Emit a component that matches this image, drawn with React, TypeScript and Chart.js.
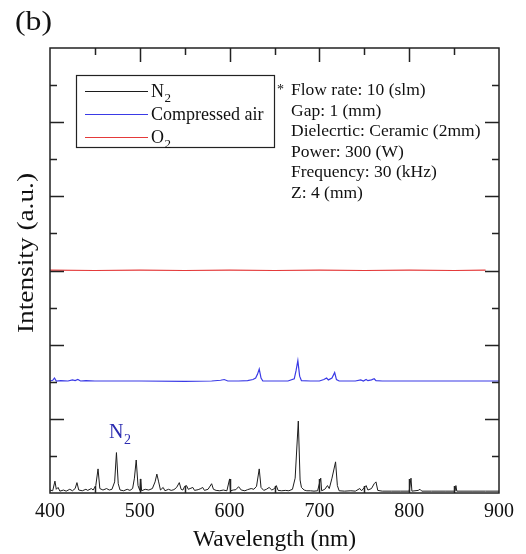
import React, { useEffect, useRef } from "react";
import { Chart, registerables } from "chart.js";

Chart.register(...registerables);

const xMin = 400;
const xMax = 900;
const yMin = 0;
const yMax = 12;
const xTickStep = 100;
const xMinorStep = 50;
const yTickStep = 1;
const xTickLabels = [400, 500, 600, 700, 800, 900];

const panelLabel = "(b)";
const xTitle = "Wavelength (nm)";
const yTitle = "Intensity (a.u.)";
const legendMain = ["N", "Compressed air", "O"];
const legendSub = ["2", "", "2"];
const seriesColors = ["#1c1c1c", "#3a3ae6", "#e43a3a"];
const conditionLines = [
  "Flow rate: 10 (slm)",
  "Gap: 1 (mm)",
  "Dielecrtic: Ceramic (2mm)",
  "Power: 300 (W)",
  "Frequency: 30 (kHz)",
  "Z: 4 (mm)",
];
const peakLabelMain = "N";
const peakLabelSub = "2";

// [wavelength nm, intensity a.u. (offset stacked)]
const n2Spectrum: [number, number][] = [
  [400, 0.08], [403, 0.06], [405.5, 0.32], [407, 0.1], [409, 0.15], [411, 0.05],
  [415, 0.08], [418, 0.05], [422, 0.1], [425, 0.06], [428, 0.12], [430, 0.28],
  [432, 0.08], [436, 0.06], [440, 0.1], [442, 0.07], [446, 0.12], [448, 0.08],
  [451, 0.2], [453.5, 0.65], [455.5, 0.12], [459, 0.08], [463, 0.12], [466, 0.08],
  [469, 0.1], [472, 0.3], [474, 1.09], [476, 0.25], [478, 0.08], [482, 0.06],
  [486, 0.1], [489, 0.07], [492, 0.12], [494, 0.4], [496, 0.89], [498, 0.2],
  [500, 0.07], [501, 0.38], [502, 0.06], [506, 0.1], [510, 0.08], [514, 0.12],
  [517, 0.3], [519, 0.51], [521, 0.3], [523, 0.08], [526, 0.15], [528, 0.06],
  [532, 0.1], [535, 0.07], [538, 0.09], [541, 0.15], [544, 0.28], [546, 0.1],
  [548, 0.08], [550, 0.18], [552, 0.2], [554, 0.1], [556, 0.12], [559, 0.15],
  [561, 0.07], [565, 0.09], [568, 0.12], [570, 0.15], [572, 0.07], [576, 0.1],
  [580, 0.25], [582, 0.1], [585, 0.07], [589, 0.06], [593, 0.08], [597, 0.06],
  [600, 0.38], [601, 0.06], [604, 0.08], [607, 0.09], [610, 0.17], [613, 0.08],
  [617, 0.06], [620, 0.09], [624, 0.12], [627, 0.1], [630, 0.18], [633, 0.65],
  [635, 0.15], [638, 0.07], [641, 0.1], [644, 0.15], [647, 0.08], [650, 0.12],
  [652, 0.2], [654, 0.07], [658, 0.06], [662, 0.07], [666, 0.06], [670, 0.1],
  [673, 0.4], [676.5, 1.94], [678.5, 0.35], [680, 0.15], [683, 0.08], [686, 0.06],
  [690, 0.06], [694, 0.05], [698, 0.06], [701.5, 0.4], [702.5, 0.06], [706, 0.1],
  [709, 0.2], [711, 0.12], [714, 0.4], [718, 0.84], [720, 0.2], [722, 0.06],
  [728, 0.05], [735, 0.06], [740, 0.05], [745, 0.12], [747, 0.06], [750, 0.15],
  [752, 0.2], [754, 0.08], [758, 0.12], [761, 0.25], [763, 0.3], [765, 0.07],
  [770, 0.05], [780, 0.05], [790, 0.05], [800, 0.05], [802, 0.4], [803, 0.05],
  [810, 0.07], [812, 0.1], [814, 0.05], [825, 0.05], [840, 0.05], [851, 0.05],
  [852, 0.2], [853, 0.05], [870, 0.05], [885, 0.05], [900, 0.05],
];

const airSpectrum: [number, number][] = [
  [400, 3.02], [403, 3.04], [405, 3.1], [407, 3.02], [412, 3.03], [420, 3.02],
  [425, 3.05], [428, 3.03], [431, 3.06], [434, 3.02], [440, 3.03], [450, 3.02],
  [460, 3.02], [500, 3.02], [550, 3.01], [580, 3.02], [590, 3.04], [594, 3.06],
  [598, 3.02], [610, 3.02], [620, 3.03], [626, 3.06], [629, 3.1], [631, 3.2],
  [633, 3.34], [635, 3.1], [637, 3.02], [650, 3.02], [665, 3.02], [672, 3.08],
  [674, 3.3], [676, 3.57], [678, 3.15], [680, 3.03], [690, 3.02], [700, 3.02],
  [705, 3.06], [708, 3.1], [710, 3.05], [714, 3.1], [717, 3.25], [719, 3.06],
  [722, 3.02], [740, 3.02], [746, 3.05], [749, 3.02], [752, 3.06], [754, 3.03],
  [758, 3.05], [761, 3.08], [763, 3.03], [770, 3.02], [800, 3.02], [850, 3.02],
  [900, 3.02],
];

const o2Spectrum: [number, number][] = [
  [400, 6.01], [450, 6.0], [500, 6.01], [550, 6.0], [600, 6.01], [650, 6.0],
  [700, 6.01], [750, 6.0], [800, 6.01], [850, 6.0], [885, 6.01],
];

const FONT = '"Liberation Serif", "Times New Roman", serif';

function toPoints(arr: [number, number][]) {
  return arr.map(([x, y]) => ({ x, y }));
}

function drawSub(
  ctx: CanvasRenderingContext2D,
  main: string,
  sub: string,
  x: number,
  baseline: number,
  size: number,
  color: string
) {
  ctx.fillStyle = color;
  ctx.textAlign = "left";
  ctx.textBaseline = "alphabetic";
  ctx.font = `${size}px ${FONT}`;
  ctx.fillText(main, x, baseline);
  if (sub) {
    const w = ctx.measureText(main).width;
    ctx.font = `${Math.round(size * 0.72)}px ${FONT}`;
    ctx.fillText(sub, x + w + 0.5, baseline + size * 0.3);
  }
}

const framePlugin = {
  id: "framePlugin",
  afterDraw(chart: any) {
    const ctx: CanvasRenderingContext2D = chart.ctx;
    const { left, right, top, bottom } = chart.chartArea;
    const xs = chart.scales.x;
    const ys = chart.scales.y;
    ctx.save();
    ctx.strokeStyle = "#222";
    ctx.lineWidth = 1.5;
    ctx.strokeRect(left, top, right - left, bottom - top);

    for (let v = xMin + xMinorStep; v < xMax; v += xMinorStep) {
      const px = Math.round(xs.getPixelForValue(v)) + 0.5;
      const len = v % xTickStep === 0 ? 14 : 7;
      ctx.beginPath();
      ctx.moveTo(px, bottom);
      ctx.lineTo(px, bottom - len);
      ctx.moveTo(px, top);
      ctx.lineTo(px, top + len);
      ctx.stroke();
    }
    for (let v = yMin + yTickStep; v < yMax; v += yTickStep) {
      const py = Math.round(ys.getPixelForValue(v)) + 0.5;
      const len = v % 2 === 0 ? 14 : 7;
      ctx.beginPath();
      ctx.moveTo(left, py);
      ctx.lineTo(left + len, py);
      ctx.moveTo(right, py);
      ctx.lineTo(right - len, py);
      ctx.stroke();
    }

    ctx.lineWidth = 1.2;
    ctx.strokeStyle = "#222";
    ctx.strokeRect(76.5, 75.5, 198, 72);
    const rowY = [91, 114, 137];
    for (let i = 0; i < 3; i++) {
      ctx.strokeStyle = seriesColors[i];
      ctx.lineWidth = 1.2;
      ctx.beginPath();
      ctx.moveTo(85, rowY[i] + 0.5);
      ctx.lineTo(148, rowY[i] + 0.5);
      ctx.stroke();
      drawSub(ctx, legendMain[i], legendSub[i], 151, rowY[i] + 6, 18, "#111");
    }

    ctx.fillStyle = "#111";
    ctx.textAlign = "left";
    ctx.textBaseline = "alphabetic";
    ctx.font = `14px ${FONT}`;
    ctx.fillText("*", 277, 94);
    ctx.font = `17.5px ${FONT}`;
    for (let i = 0; i < conditionLines.length; i++) {
      ctx.fillText(conditionLines[i], 291, 95 + i * 20.6);
    }

    drawSub(ctx, peakLabelMain, peakLabelSub, 109, 438, 20, "#2b2bb0");

    ctx.fillStyle = "#111";
    ctx.font = `27px ${FONT}`;
    ctx.textBaseline = "middle";
    ctx.textAlign = "left";
    {
      const w = ctx.measureText(panelLabel).width;
      ctx.save();
      ctx.translate(15, 23);
      ctx.scale(37 / w, 1);
      ctx.fillText(panelLabel, 0, 0);
      ctx.restore();
    }

    ctx.font = `24px ${FONT}`;
    ctx.textAlign = "center";
    ctx.textBaseline = "middle";
    {
      const w = ctx.measureText(yTitle).width;
      ctx.save();
      ctx.translate(27, 253);
      ctx.rotate(-Math.PI / 2);
      ctx.scale(160 / w, 1);
      ctx.fillText(yTitle, 0, 0);
      ctx.restore();
    }
    ctx.restore();
  },
};

export default function App() {
  const ref = useRef<HTMLCanvasElement | null>(null);
  useEffect(() => {
    if (!ref.current) return;
    const chart = new Chart(ref.current, {
      type: "line",
      data: {
        datasets: [
          {
            label: "N2",
            data: toPoints(n2Spectrum),
            borderColor: seriesColors[0],
            borderWidth: 1,
            pointRadius: 0,
            tension: 0,
          },
          {
            label: "Compressed air",
            data: toPoints(airSpectrum),
            borderColor: seriesColors[1],
            borderWidth: 1.2,
            pointRadius: 0,
            tension: 0,
          },
          {
            label: "O2",
            data: toPoints(o2Spectrum),
            borderColor: seriesColors[2],
            borderWidth: 1.2,
            pointRadius: 0,
            tension: 0,
          },
        ],
      },
      options: {
        responsive: false,
        animation: false,
        events: [],
        layout: { padding: { left: 50, top: 48, right: 27, bottom: 0 } },
        plugins: {
          legend: { display: false },
          tooltip: { enabled: false },
        },
        scales: {
          x: {
            type: "linear",
            min: xMin,
            max: xMax,
            afterFit(scale: any) {
              scale.height = 61;
            },
            grid: { display: false, drawTicks: false },
            border: { display: false },
            ticks: {
              stepSize: xTickStep,
              padding: 7,
              color: "#111",
              font: { family: FONT, size: 20 },
              callback: (v: any) => (xTickLabels.includes(Number(v)) ? String(v) : ""),
              maxRotation: 0,
            },
            title: {
              display: true,
              text: xTitle,
              color: "#111",
              font: { family: FONT, size: 23.5 },
              padding: { top: 0, bottom: 0 },
            },
          },
          y: {
            type: "linear",
            min: yMin,
            max: yMax,
            display: false,
          },
        },
      },
      plugins: [framePlugin],
    });
    return () => chart.destroy();
  }, []);
  return (
    <div style={{ position: "fixed", left: 0, top: 0, width: 526, height: 554, background: "#fff" }}>
      <canvas ref={ref} width={526} height={554} style={{ display: "block" }} />
    </div>
  );
}
